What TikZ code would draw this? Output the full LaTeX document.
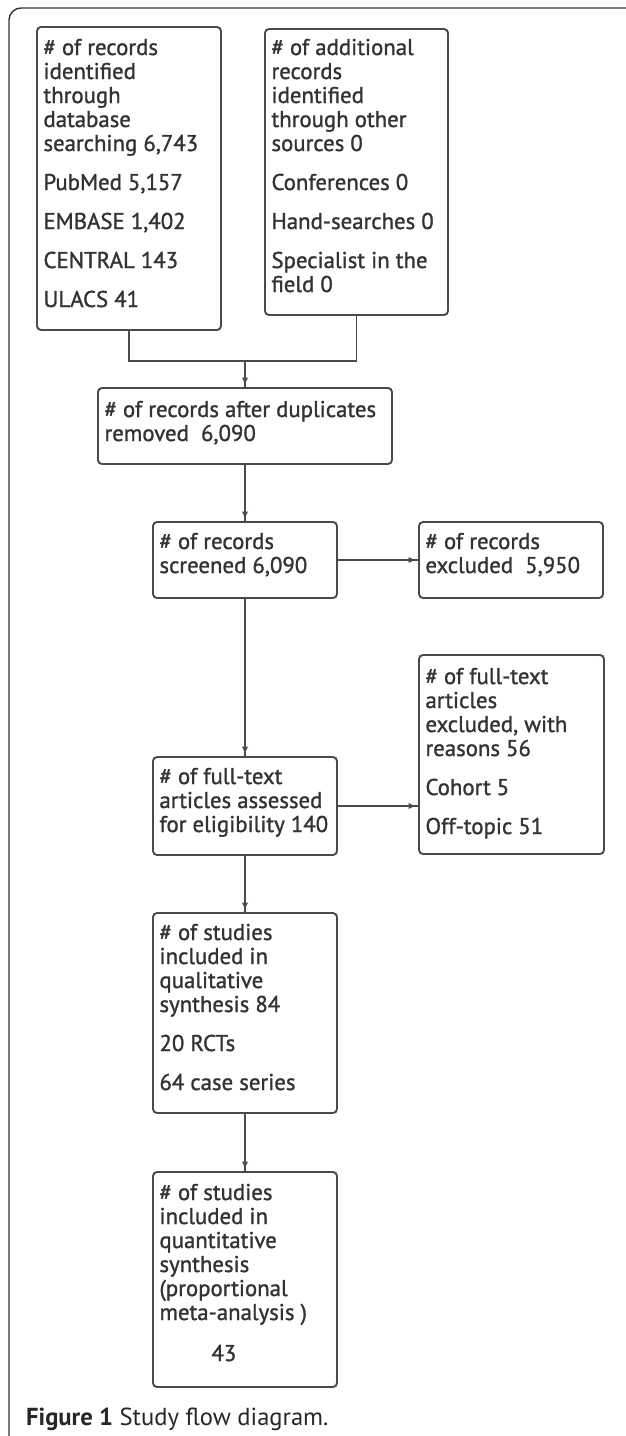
\documentclass[tikz,border=0pt]{standalone}
\usepackage{fontspec}
\setmainfont{PT Sans}
\newfontfamily\boxfont{PT Sans}[FakeBold=1.2]
\usetikzlibrary{arrows.meta,decorations.markings}
\definecolor{ink}{HTML}{333333}
\definecolor{edge}{HTML}{4A4A4A}
\newcommand\fbtext[4]{\parbox[t][#2][t]{#1}{\boxfont\fontsize{22.8}{24}\selectfont\raggedright\leftskip=6.5pt\parskip=15pt\rule{0pt}{#3}#4}}
\tikzset{
  fbox/.style={draw=edge, line width=1.9pt, rounded corners=4pt, inner sep=0pt, outer sep=0pt, text=ink, anchor=north west},
  link/.style={draw=edge, line width=1.5pt},
  arr/.style={link, postaction={decorate}, decoration={markings, mark=at position -3pt with {\arrow{Latex[length=7.5pt,width=6.5pt]}}}},
  frame/.style={draw=black!80, line width=1.4pt, rounded corners=12pt}
}
\begin{document}
\begin{tikzpicture}[x=1pt,y=-1pt]
\useasboundingbox (0,0) rectangle (625,1436);
\fill[white] (0,0) rectangle (625,1436);
\draw[frame] (9,1460) -- (9,8) -- (650,8);

\node[fbox] (db) at (37,27) {\fbtext{184pt}{303pt}{28pt}{\# of records\\ identified\\ through\\ database\\ searching 6,743\par PubMed 5,157\par EMBASE 1,402\par CENTRAL 143\par ULACS 41}};
\node[fbox] (other) at (265,29) {\fbtext{183pt}{286pt}{26pt}{\# of additional\\ records\\ identified\\ through other\\ sources 0\par Conferences 0\par Hand-searches 0\par Specialist in the\\ field 0}};
\node[fbox] (dup) at (98,388) {\fbtext{294pt}{76pt}{29pt}{\# of records after duplicates\\ removed\ \ 6,090}};
\node[fbox] (screened) at (153,522) {\fbtext{184pt}{76pt}{27pt}{\# of records\\ screened 6,090}};
\node[fbox] (excl) at (419,522) {\fbtext{184pt}{76pt}{27pt}{\# of records\\ excluded\ \ 5,950}};
\node[fbox] (ftexcl) at (419,655) {\fbtext{185pt}{199pt}{29pt}{\# of full-text\\ articles\\ excluded, with\\ reasons 56\par Cohort 5\par Off-topic 51}};
\node[fbox] (assess) at (153,757) {\fbtext{184pt}{98pt}{27pt}{\# of full-text\\ articles assessed\\ for eligibility 140}};
\node[fbox] (qual) at (153,913) {\fbtext{184pt}{200pt}{27pt}{\# of studies\\ included in\\ qualitative\\ synthesis 84\par 20 RCTs\par 64 case series}};
\node[fbox] (quant) at (153,1172) {\fbtext{184pt}{215pt}{28pt}{\# of studies\\ included in\\ quantitative\\ synthesis\\ (proportional\\ meta-analysis )\par\vspace{2pt}\hspace*{52pt}43}};

\coordinate (j) at (245,361);
\draw[link] (db.south) |- (j) -| (other.south);
\draw[arr] (j) -- (dup.north);
\draw[arr] (dup.south) -- (screened.north);
\draw[arr] (screened.east) -- (excl.west);
\draw[arr] (screened.south) -- (assess.north);
\draw[arr] (assess.east) -- (assess.east -| ftexcl.west);
\draw[arr] (assess.south) -- (qual.north);
\draw[arr] (qual.south) -- (quant.north);

\node[anchor=base west, inner sep=0pt, text=black!85] (cap) at (26,1425) {\fontsize{24.6}{27}\selectfont\textbf{Figure 1} Study flow diagram.};
\end{tikzpicture}
\end{document}
